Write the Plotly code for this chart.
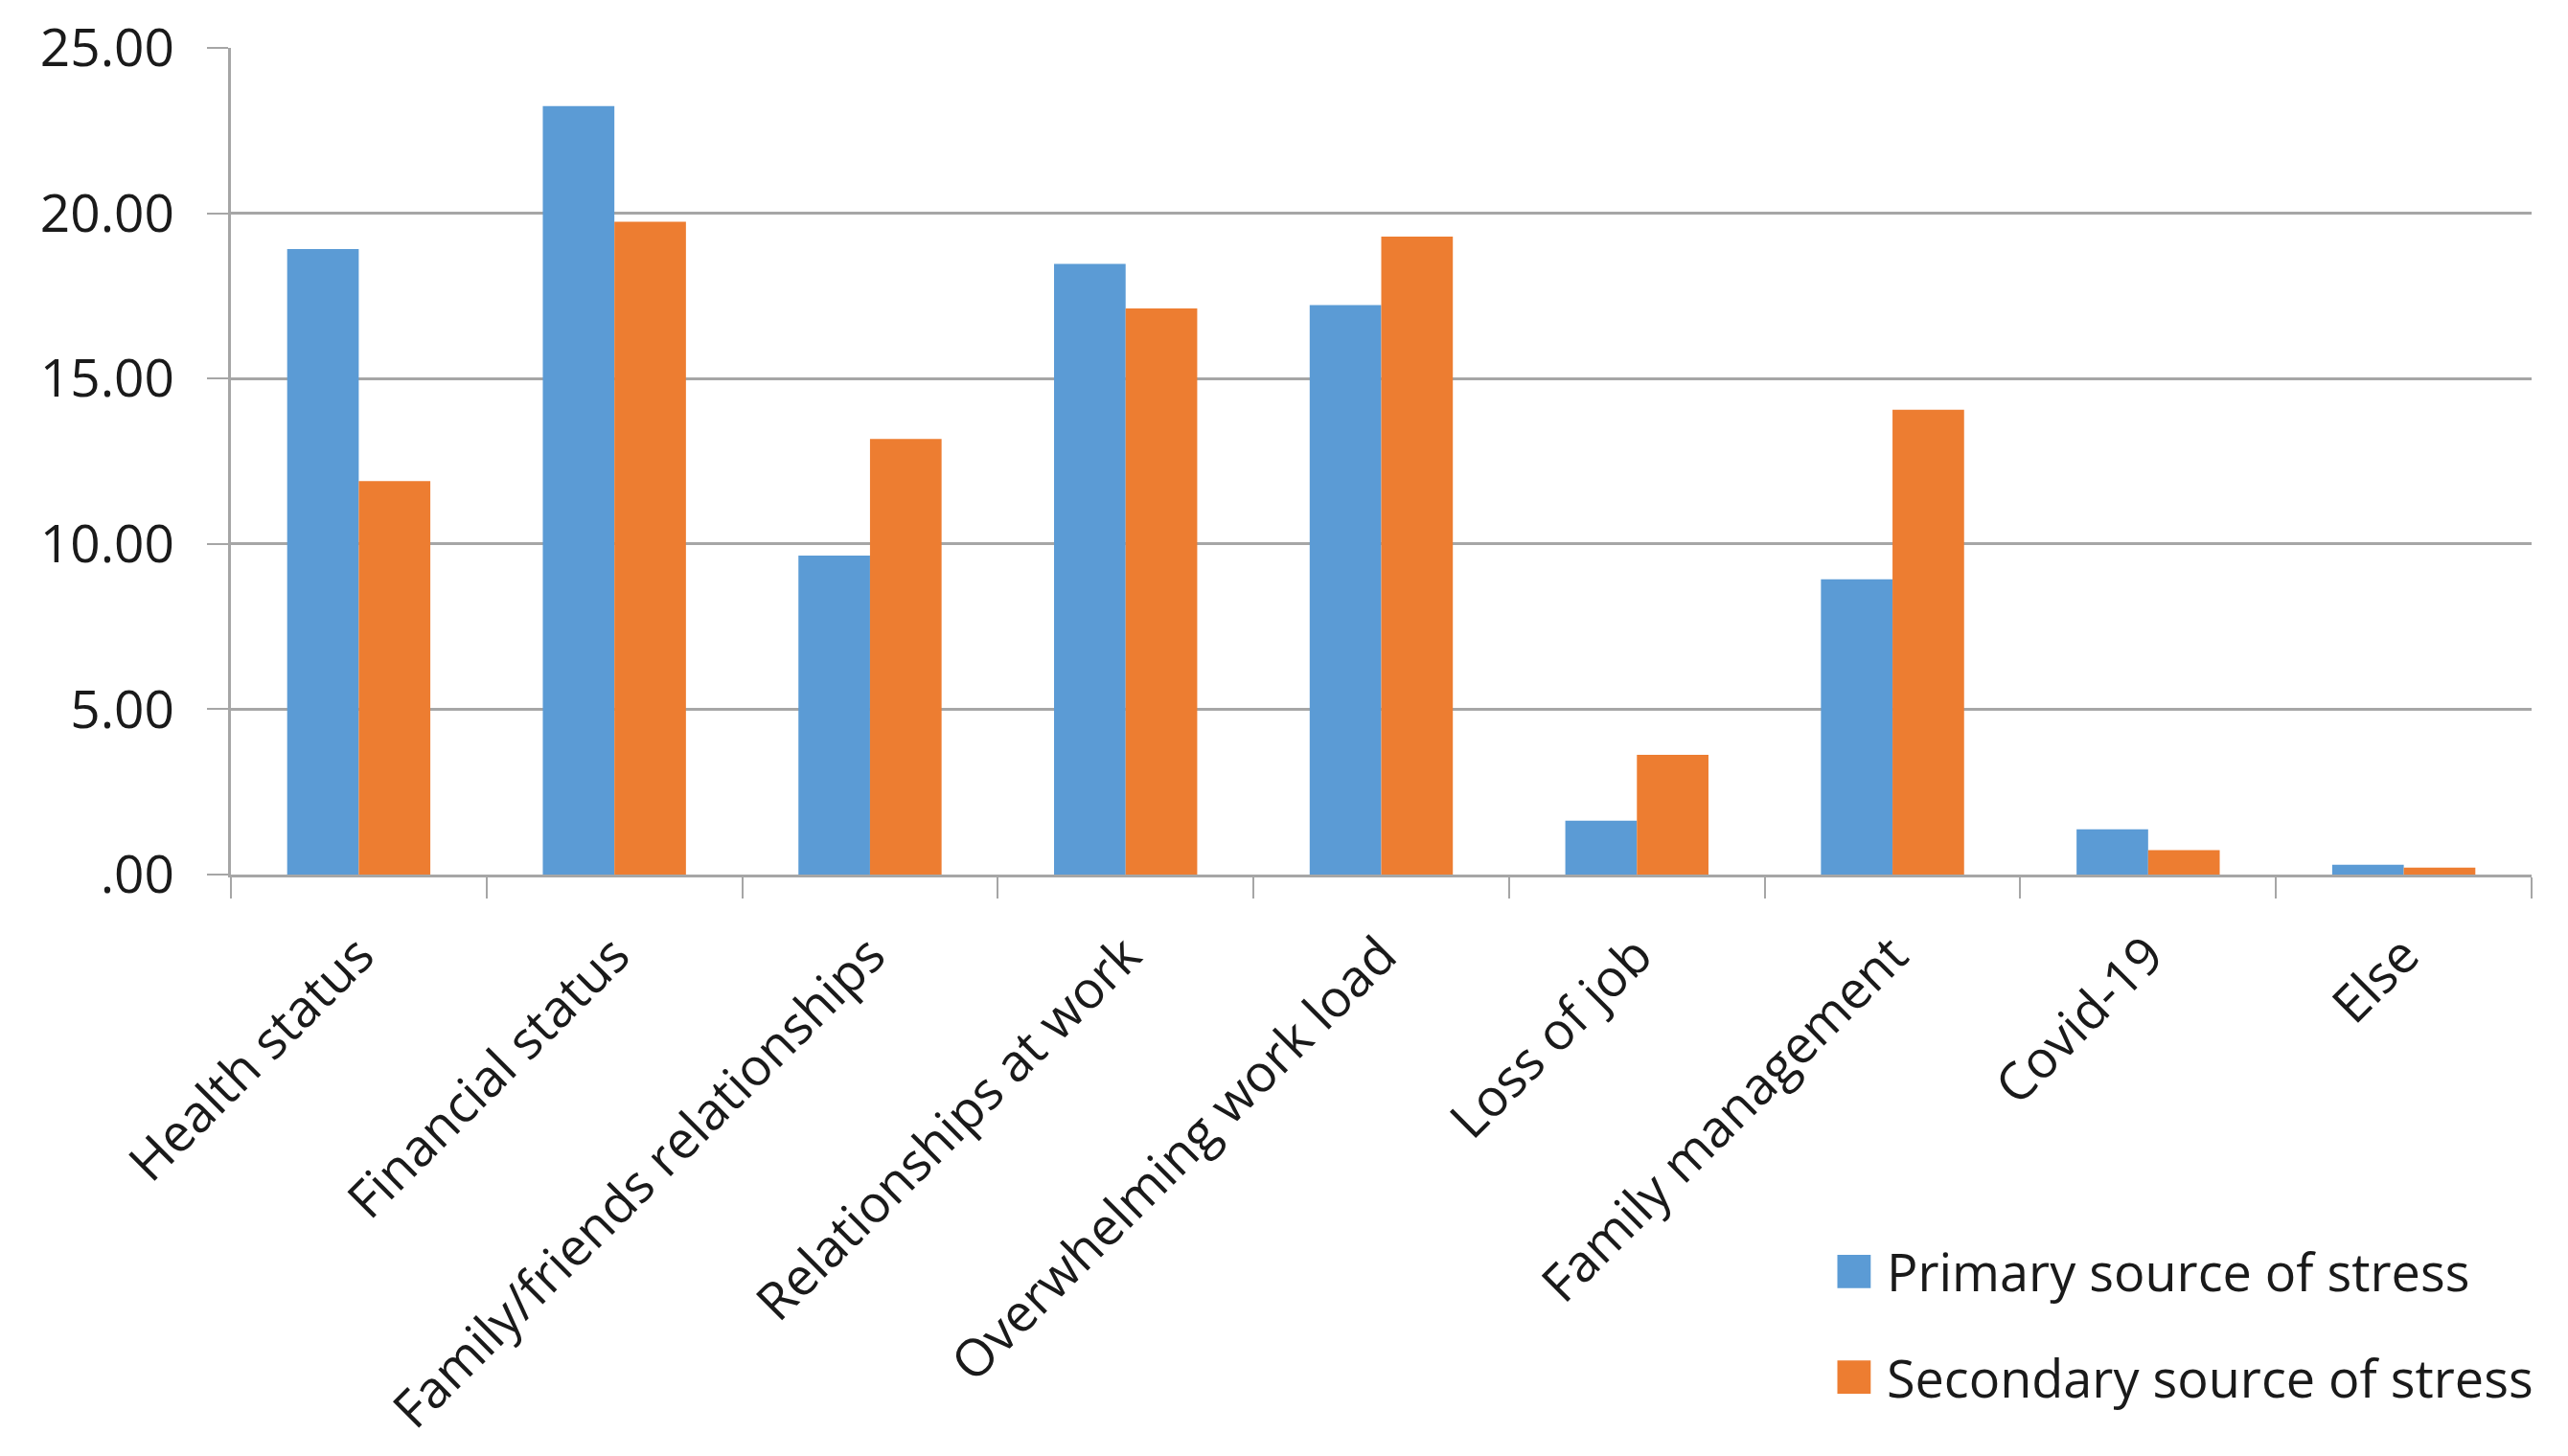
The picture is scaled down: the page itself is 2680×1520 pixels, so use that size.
import plotly.graph_objects as go

categories = ["Health status", "Financial status", "Family/friends relationships",
              "Relationships at work", "Overwhelming work load", "Loss of job",
              "Family management", "Covid-19", "Else"]
primary = [18.92, 23.24, 9.65, 18.47, 17.22, 1.63, 8.93, 1.37, 0.30]
secondary = [11.90, 19.74, 13.17, 17.12, 19.29, 3.62, 14.06, 0.74, 0.21]
series_names = ["Primary source of stress", "Secondary source of stress"]
y_tickvals = [0, 5, 10, 15, 20, 25]
y_ticktext = [".00", "5.00", "10.00", "15.00", "20.00", "25.00"]

BLUE = "#5B9BD5"
ORANGE = "#ED7D31"
GRID = "#A6A6A6"
FONT = "Open Sans"
TXT = "#1a1a1a"

fig = go.Figure()
fig.add_trace(go.Bar(x=categories, y=primary, name=series_names[0],
                     marker=dict(color=BLUE, line=dict(width=0)), legendgroup="a"))
fig.add_trace(go.Bar(x=categories, y=secondary, name=series_names[1],
                     marker=dict(color=ORANGE, line=dict(width=0)), legendgroup="b"))

# page body has an 8px default margin; compensate so the figure fills 2680x1520
fig.update_layout(
    width=2672, height=1512,
    margin=dict(l=233, r=38, t=42, b=607, autoexpand=False),
    paper_bgcolor="white", plot_bgcolor="white",
    barmode="group", bargap=0.44, bargroupgap=0,
    font=dict(family=FONT, size=54, color=TXT),
    legend=dict(x=0.703, y=-0.432, xanchor="left", yanchor="top",
                traceorder="grouped", tracegroupgap=37,
                font=dict(family=FONT, size=54, color=TXT),
                bgcolor="rgba(0,0,0,0)"),
    showlegend=True,
)
fig.update_xaxes(
    type="category", tickangle=-45, tickson="boundaries",
    ticks="outside", ticklen=22, tickwidth=2, tickcolor=GRID,
    showline=True, linecolor=GRID, linewidth=3, automargin=False,
    showgrid=False, ticklabelstandoff=28,
    tickfont=dict(family=FONT, size=54, color=TXT),
)
fig.update_yaxes(
    range=[0, 25], tickvals=y_tickvals, ticktext=y_ticktext,
    ticks="outside", ticklen=22, tickwidth=2, tickcolor=GRID,
    showline=True, linecolor=GRID, linewidth=3, automargin=False,
    showgrid=True, gridcolor=GRID, gridwidth=3, zeroline=False,
    ticklabelstandoff=23,
    tickfont=dict(family=FONT, size=55, color=TXT),
)

# enlarge the legend swatches to match the reference's large square keys
post = """
var gd = document.getElementById('{plot_id}');
gd.querySelectorAll('.legend .scrollbox').forEach(function(s){ s.removeAttribute('clip-path'); });
gd.querySelectorAll('.legend .legendpoints path').forEach(function(p){
  var t = p.getAttribute('transform') || '';
  p.setAttribute('transform', t + ' translate(-14,0) scale(2.9)');
});
"""
fig.write_html("out.html", post_script=post)
